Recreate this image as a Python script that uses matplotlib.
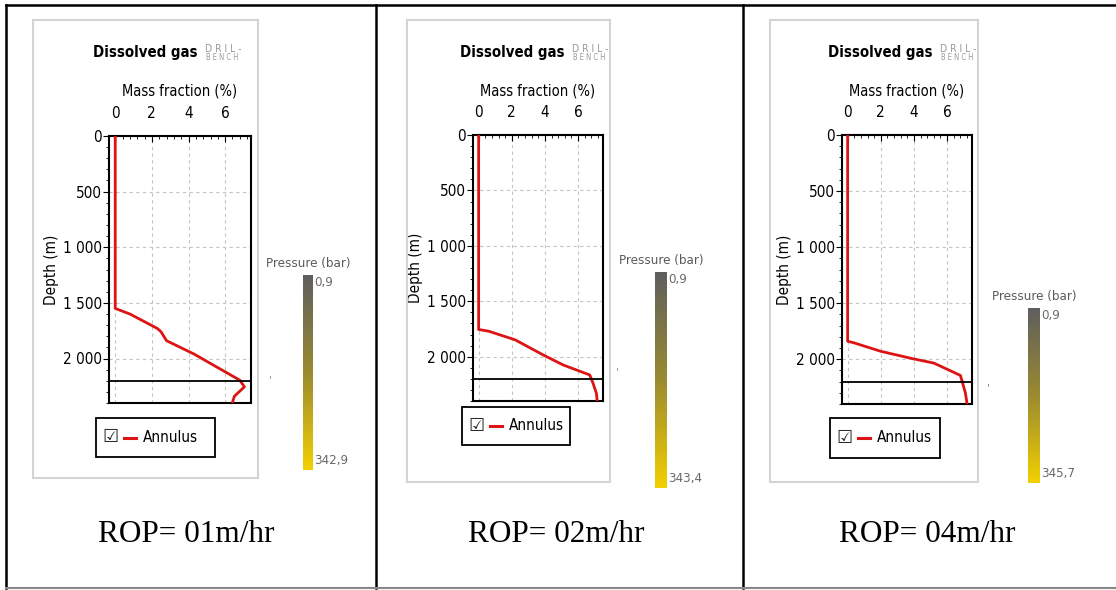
import numpy as np
import matplotlib
matplotlib.use("Agg")
import matplotlib.pyplot as plt
from matplotlib.colors import LinearSegmentedColormap, Normalize
from matplotlib.patches import Rectangle
from matplotlib.lines import Line2D
from matplotlib.ticker import MultipleLocator, FuncFormatter

# --- Dissolved gas profiles (mass fraction % vs depth m) for three ROP cases ---
rop_labels = ["ROP= 01m/hr", "ROP= 02m/hr", "ROP= 04m/hr"]

depth_1 = [0, 1550, 1600, 1730, 1760, 1840, 1960, 2195, 2255, 2340, 2395]
frac_1 = [0.0, 0.0, 0.8, 2.3, 2.5, 2.8, 4.3, 6.8, 7.05, 6.5, 6.4]

depth_2 = [0, 1755, 1770, 1848, 1985, 2075, 2165, 2240, 2330, 2400]
frac_2 = [0.0, 0.0, 0.6, 2.2, 3.9, 5.1, 6.7, 6.9, 7.1, 7.15]

depth_3 = [0, 1840, 1855, 1930, 1995, 2035, 2145, 2195, 2300, 2395]
frac_3 = [0.0, 0.0, 0.4, 2.0, 3.9, 5.2, 6.8, 6.9, 7.1, 7.2]

pressure_min = [0.9, 0.9, 0.9]
pressure_max = [342.9, 343.4, 345.7]
shoe_depth = 2200
series_name = "Annulus"

profiles = [(frac_1, depth_1), (frac_2, depth_2), (frac_3, depth_3)]

W, H = 1116, 590
fig = plt.figure(figsize=(W / 100, H / 100), dpi=100)
fig.patch.set_facecolor("white")

SANS = dict(family="DejaVu Sans", stretch="condensed")


def rect(x0, y0, x1, y1):
    # pixel box (top-left origin) -> figure fraction rect
    return [x0 / W, 1 - y1 / H, (x1 - x0) / W, (y1 - y0) / H]


def fx(x):
    return x / W


def fy(y):
    return 1 - y / H


def comma(v):
    return f"{v:.1f}".replace(".", ",")


# layout of the three screenshot panels, in pixels
panels = [
    dict(box=(33, 20, 258, 478), ax=(109, 136, 251, 403), xlim=(-0.34, 7.41),
         leg=(96, 418, 215, 457), cbar=(303, 275, 313, 470), title_x=93, tick=(270, 380)),
    dict(box=(407, 20, 610, 482), ax=(473, 135, 603, 401), xlim=(-0.34, 7.5),
         leg=(462, 407, 570, 445), cbar=(655, 272, 667, 488), title_x=460, tick=(617, 372)),
    dict(box=(770, 20, 978, 482), ax=(842, 135, 972, 404), xlim=(-0.34, 7.5),
         leg=(830, 418, 940, 458), cbar=(1028, 308, 1040, 483), title_x=828, tick=(988, 388)),
]
rop_x = [186, 556, 927]

cmap = LinearSegmentedColormap.from_list("press", ["#5e5e5e", "#9a8a30", "#f2d000"])

for i, p in enumerate(panels):
    frac, depth = profiles[i]

    # light grey screenshot frame
    bx0, by0, bx1, by1 = p["box"]
    fig.patches.append(Rectangle((fx(bx0), fy(by1)), (bx1 - bx0) / W, (by1 - by0) / H,
                                 transform=fig.transFigure, fill=False,
                                 edgecolor="#d4d4d4", lw=1.5))

    ax = fig.add_axes(rect(*p["ax"]))
    ax.plot(frac, depth, color="#dd1414", lw=2, zorder=3)
    ax.axhline(shoe_depth, color="black", lw=1.3, zorder=4)
    ax.set_xlim(*p["xlim"])
    ax.set_ylim(2400, 0)

    ax.xaxis.set_ticks_position("top")
    ax.xaxis.set_label_position("top")
    ax.set_xticks([0, 2, 4, 6])
    ax.xaxis.set_minor_locator(MultipleLocator(0.4))
    ax.set_yticks([0, 500, 1000, 1500, 2000])
    ax.yaxis.set_minor_locator(MultipleLocator(100))
    ax.yaxis.set_major_formatter(FuncFormatter(lambda v, _: f"{int(v):,}".replace(",", " ")))
    ax.tick_params(axis="x", which="major", direction="in", length=4, width=0.8,
                   labelsize=11, pad=11)
    ax.tick_params(axis="x", which="minor", direction="in", length=2.5, width=0.6)
    ax.tick_params(axis="y", which="major", direction="out", length=4, width=0.8,
                   labelsize=11, pad=1)
    ax.tick_params(axis="y", which="minor", direction="out", length=2, width=0.6)
    for lab in ax.get_xticklabels() + ax.get_yticklabels():
        lab.set_fontstretch("condensed")
    ax.grid(True, which="major", color="#c4c4c4", ls=(0, (3, 3)), lw=0.8)
    for s in ax.spines.values():
        s.set_linewidth(1.5)
        s.set_color("black")
    ax.set_xlabel("Mass fraction (%)", fontsize=10.5, labelpad=7, **SANS)
    ax.set_ylabel("Depth (m)", fontsize=11, labelpad=3, **SANS)

    # title with software logo
    tx = p["title_x"]
    fig.text(fx(tx), fy(53), "Dissolved gas", fontsize=10.7, weight="bold",
             va="center", ha="left", **SANS)
    fig.text(fx(tx + 112), fy(49), "D R I L -", fontsize=7.5, color="#9a9a9a",
             va="center", ha="left", **SANS)
    fig.text(fx(tx + 113), fy(57.5), "B E N C H", fontsize=5.5, color="#9a9a9a",
             va="center", ha="left", **SANS)

    # legend box
    lx0, ly0, lx1, ly1 = p["leg"]
    fig.patches.append(Rectangle((fx(lx0), fy(ly1)), (lx1 - lx0) / W, (ly1 - ly0) / H,
                                 transform=fig.transFigure, fill=False,
                                 edgecolor="black", lw=1.3))
    ly = (ly0 + ly1) / 2
    fig.text(fx(lx0 + 6), fy(ly), "\u2611", fontsize=13, family="DejaVu Sans",
             va="center", ha="left", color="#222222")
    fig.lines.append(Line2D([fx(lx0 + 28), fx(lx0 + 40)], [fy(ly), fy(ly)],
                            transform=fig.transFigure, color="#dd1414", lw=2.2))
    fig.text(fx(lx0 + 47), fy(ly), series_name, fontsize=11,
             va="center", ha="left", **SANS)

    # pressure colour bar
    cx0, cy0, cx1, cy1 = p["cbar"]
    cax = fig.add_axes(rect(cx0, cy0, cx1, cy1))
    sm = plt.cm.ScalarMappable(norm=Normalize(pressure_min[i], pressure_max[i]), cmap=cmap)
    cb = fig.colorbar(sm, cax=cax)
    cb.outline.set_visible(False)
    cb.set_ticks([])
    cax.invert_yaxis()
    fig.text(fx((cx0 + cx1) / 2), fy(cy0 - 5), "Pressure (bar)", fontsize=9.5,
             color="#5a5a5a", ha="center", va="bottom", **SANS)
    fig.text(fx(cx1 + 1), fy(cy0 + 1), comma(pressure_min[i]), fontsize=9.5,
             color="#6a6a6a", ha="left", va="top", **SANS)
    fig.text(fx(cx1 + 1), fy(cy1 - 3), comma(pressure_max[i]), fontsize=9.5,
             color="#6a6a6a", ha="left", va="bottom", **SANS)
    fig.text(fx(p["tick"][0]), fy(p["tick"][1]), "'", fontsize=8, color="#888888",
             ha="center", va="center")

    # caption cell
    fig.text(fx(rop_x[i]), fy(535), rop_labels[i], fontsize=22.5,
             family="Liberation Serif", ha="center", va="center")

# table rules
for x in (6, 376, 743):
    fig.lines.append(Line2D([fx(x), fx(x)], [fy(5), fy(588)],
                            transform=fig.transFigure, color="black", lw=1.8))
fig.lines.append(Line2D([fx(6), 1], [fy(5), fy(5)], transform=fig.transFigure,
                        color="black", lw=1.8))
fig.lines.append(Line2D([fx(6), 1], [fy(588), fy(588)], transform=fig.transFigure,
                        color="#888888", lw=1.5))

fig.savefig("out.png", dpi=100)
